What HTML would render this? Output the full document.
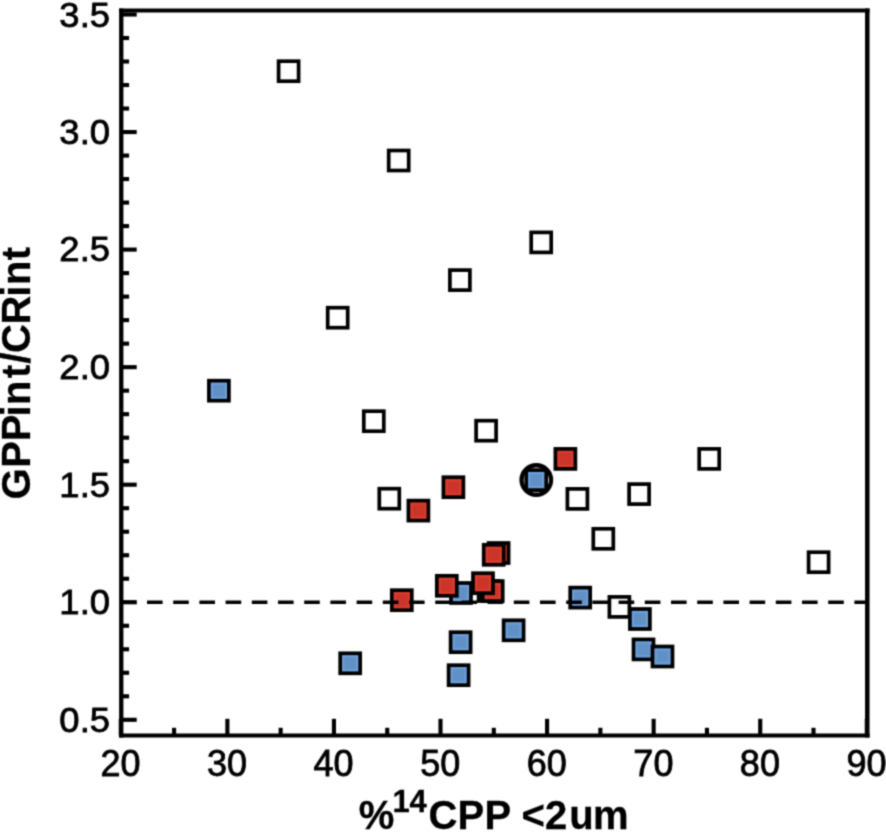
<!DOCTYPE html>
<html lang="en">
<head>
<meta charset="utf-8">
<title>GPPint/CRint vs %14CPP &lt;2um</title>
<style>
html,body{margin:0;padding:0;background:#fff;}
body{width:886px;height:832px;overflow:hidden;}
svg{display:block;}
text{font-family:"Liberation Sans",Arial,Helvetica,sans-serif;fill:#000;}
.tl{font-size:36px;stroke:#000;stroke-width:0.8px;}
.ttl{font-weight:bold;stroke:#000;stroke-width:0.3px;}
</style>
</head>
<body>
<svg width="886" height="832" viewBox="0 0 886 832">
<defs><filter id="soft" x="0" y="0" width="886" height="832" filterUnits="userSpaceOnUse" color-interpolation-filters="sRGB"><feConvolveMatrix order="3" kernelMatrix="0.0400 0.1200 0.0400 0.1200 0.3600 0.1200 0.0400 0.1200 0.0400" edgeMode="duplicate" preserveAlpha="true"/></filter></defs>
<g filter="url(#soft)">
<rect x="-5" y="-5" width="896" height="842" fill="#fff"/>

<g fill="none" stroke="#000" stroke-linecap="butt">
<line x1="121.25" y1="8.6" x2="121.25" y2="737.4" stroke-width="4.3"/>
<line x1="867.3" y1="8.6" x2="867.3" y2="737.4" stroke-width="4.5"/>
<line x1="119.1" y1="10.6" x2="869.55" y2="10.6" stroke-width="4.0"/>
<line x1="119.1" y1="735.4" x2="869.55" y2="735.4" stroke-width="4.0"/>
</g>
<g stroke="#000" stroke-width="4.1" stroke-linecap="butt">
<line x1="121.25" y1="719.80" x2="136.7" y2="719.80"/>
<line x1="121.25" y1="696.29" x2="129.1" y2="696.29"/>
<line x1="121.25" y1="672.78" x2="129.1" y2="672.78"/>
<line x1="121.25" y1="649.27" x2="129.1" y2="649.27"/>
<line x1="121.25" y1="625.76" x2="129.1" y2="625.76"/>
<line x1="121.25" y1="602.25" x2="136.7" y2="602.25"/>
<line x1="121.25" y1="578.74" x2="129.1" y2="578.74"/>
<line x1="121.25" y1="555.23" x2="129.1" y2="555.23"/>
<line x1="121.25" y1="531.72" x2="129.1" y2="531.72"/>
<line x1="121.25" y1="508.21" x2="129.1" y2="508.21"/>
<line x1="121.25" y1="484.70" x2="136.7" y2="484.70"/>
<line x1="121.25" y1="461.19" x2="129.1" y2="461.19"/>
<line x1="121.25" y1="437.68" x2="129.1" y2="437.68"/>
<line x1="121.25" y1="414.17" x2="129.1" y2="414.17"/>
<line x1="121.25" y1="390.66" x2="129.1" y2="390.66"/>
<line x1="121.25" y1="367.15" x2="136.7" y2="367.15"/>
<line x1="121.25" y1="343.64" x2="129.1" y2="343.64"/>
<line x1="121.25" y1="320.13" x2="129.1" y2="320.13"/>
<line x1="121.25" y1="296.62" x2="129.1" y2="296.62"/>
<line x1="121.25" y1="273.11" x2="129.1" y2="273.11"/>
<line x1="121.25" y1="249.60" x2="136.7" y2="249.60"/>
<line x1="121.25" y1="226.09" x2="129.1" y2="226.09"/>
<line x1="121.25" y1="202.58" x2="129.1" y2="202.58"/>
<line x1="121.25" y1="179.07" x2="129.1" y2="179.07"/>
<line x1="121.25" y1="155.56" x2="129.1" y2="155.56"/>
<line x1="121.25" y1="132.05" x2="136.7" y2="132.05"/>
<line x1="121.25" y1="108.54" x2="129.1" y2="108.54"/>
<line x1="121.25" y1="85.03" x2="129.1" y2="85.03"/>
<line x1="121.25" y1="61.52" x2="129.1" y2="61.52"/>
<line x1="121.25" y1="38.01" x2="129.1" y2="38.01"/>
<line x1="121.25" y1="14.50" x2="136.7" y2="14.50"/>
<line x1="120.80" y1="735.4" x2="120.80" y2="718.8"/>
<line x1="174.08" y1="735.4" x2="174.08" y2="727.8"/>
<line x1="227.37" y1="735.4" x2="227.37" y2="718.8"/>
<line x1="280.65" y1="735.4" x2="280.65" y2="727.8"/>
<line x1="333.94" y1="735.4" x2="333.94" y2="718.8"/>
<line x1="387.23" y1="735.4" x2="387.23" y2="727.8"/>
<line x1="440.51" y1="735.4" x2="440.51" y2="718.8"/>
<line x1="493.80" y1="735.4" x2="493.80" y2="727.8"/>
<line x1="547.08" y1="735.4" x2="547.08" y2="718.8"/>
<line x1="600.37" y1="735.4" x2="600.37" y2="727.8"/>
<line x1="653.65" y1="735.4" x2="653.65" y2="718.8"/>
<line x1="706.93" y1="735.4" x2="706.93" y2="727.8"/>
<line x1="760.22" y1="735.4" x2="760.22" y2="718.8"/>
<line x1="813.50" y1="735.4" x2="813.50" y2="727.8"/>
<line x1="866.79" y1="735.4" x2="866.79" y2="718.8"/>
</g>
<g stroke="#000" stroke-width="3.7" stroke-linejoin="miter">
<rect x="278.60" y="61.20" width="20.0" height="20.0" fill="#fff"/>
<rect x="388.70" y="150.50" width="20.0" height="20.0" fill="#fff"/>
<rect x="531.20" y="232.40" width="20.0" height="20.0" fill="#fff"/>
<rect x="449.90" y="270.10" width="20.0" height="20.0" fill="#fff"/>
<rect x="327.70" y="307.70" width="20.0" height="20.0" fill="#fff"/>
<rect x="363.80" y="411.20" width="20.0" height="20.0" fill="#fff"/>
<rect x="476.10" y="420.70" width="20.0" height="20.0" fill="#fff"/>
<rect x="379.30" y="488.70" width="20.0" height="20.0" fill="#fff"/>
<rect x="567.40" y="488.90" width="20.0" height="20.0" fill="#fff"/>
<rect x="629.10" y="484.10" width="20.0" height="20.0" fill="#fff"/>
<rect x="699.20" y="448.90" width="20.0" height="20.0" fill="#fff"/>
<rect x="593.30" y="528.80" width="20.0" height="20.0" fill="#fff"/>
<rect x="808.60" y="552.20" width="20.0" height="20.0" fill="#fff"/>
<rect x="609.40" y="596.90" width="20.0" height="20.0" fill="#fff"/>
<rect x="208.90" y="380.70" width="20.0" height="20.0" fill="#6ba0dc"/><rect x="212.95" y="384.75" width="11.90" height="11.90" fill="#6190c4" stroke="none"/>
<rect x="340.20" y="653.30" width="20.0" height="20.0" fill="#6ba0dc"/><rect x="344.25" y="657.35" width="11.90" height="11.90" fill="#6190c4" stroke="none"/>
<rect x="451.00" y="583.00" width="20.0" height="20.0" fill="#6ba0dc"/><rect x="455.05" y="587.05" width="11.90" height="11.90" fill="#6190c4" stroke="none"/>
<rect x="450.60" y="632.20" width="20.0" height="20.0" fill="#6ba0dc"/><rect x="454.65" y="636.25" width="11.90" height="11.90" fill="#6190c4" stroke="none"/>
<rect x="448.60" y="665.20" width="20.0" height="20.0" fill="#6ba0dc"/><rect x="452.65" y="669.25" width="11.90" height="11.90" fill="#6190c4" stroke="none"/>
<rect x="503.60" y="620.30" width="20.0" height="20.0" fill="#6ba0dc"/><rect x="507.65" y="624.35" width="11.90" height="11.90" fill="#6190c4" stroke="none"/>
<rect x="570.20" y="587.60" width="20.0" height="20.0" fill="#6ba0dc"/><rect x="574.25" y="591.65" width="11.90" height="11.90" fill="#6190c4" stroke="none"/>
<rect x="629.90" y="609.00" width="20.0" height="20.0" fill="#6ba0dc"/><rect x="633.95" y="613.05" width="11.90" height="11.90" fill="#6190c4" stroke="none"/>
<rect x="633.50" y="639.40" width="20.0" height="20.0" fill="#6ba0dc"/><rect x="637.55" y="643.45" width="11.90" height="11.90" fill="#6190c4" stroke="none"/>
<rect x="652.50" y="646.50" width="20.0" height="20.0" fill="#6ba0dc"/><rect x="656.55" y="650.55" width="11.90" height="11.90" fill="#6190c4" stroke="none"/>
<rect x="526.20" y="470.10" width="20.0" height="20.0" fill="#6ba0dc"/><rect x="530.25" y="474.15" width="11.90" height="11.90" fill="#6190c4" stroke="none"/>
<rect x="555.40" y="448.90" width="20.0" height="20.0" fill="#dc3c2d"/><rect x="559.45" y="452.95" width="11.90" height="11.90" fill="#cb3529" stroke="none"/>
<rect x="443.40" y="477.20" width="20.0" height="20.0" fill="#dc3c2d"/><rect x="447.45" y="481.25" width="11.90" height="11.90" fill="#cb3529" stroke="none"/>
<rect x="408.40" y="500.60" width="20.0" height="20.0" fill="#dc3c2d"/><rect x="412.45" y="504.65" width="11.90" height="11.90" fill="#cb3529" stroke="none"/>
<rect x="488.60" y="543.00" width="20.0" height="20.0" fill="#dc3c2d"/><rect x="492.65" y="547.05" width="11.90" height="11.90" fill="#cb3529" stroke="none"/>
<rect x="483.70" y="544.80" width="20.0" height="20.0" fill="#dc3c2d"/><rect x="487.75" y="548.85" width="11.90" height="11.90" fill="#cb3529" stroke="none"/>
<rect x="478.60" y="581.00" width="20.0" height="20.0" fill="#1a0503"/>
<rect x="482.70" y="581.10" width="20.0" height="20.0" fill="#dc3c2d"/><rect x="486.75" y="585.15" width="11.90" height="11.90" fill="#cb3529" stroke="none"/>
<rect x="436.80" y="575.80" width="20.0" height="20.0" fill="#dc3c2d"/><rect x="440.85" y="579.85" width="11.90" height="11.90" fill="#cb3529" stroke="none"/>
<rect x="391.80" y="590.20" width="20.0" height="20.0" fill="#dc3c2d"/><rect x="395.85" y="594.25" width="11.90" height="11.90" fill="#cb3529" stroke="none"/>
<rect x="473.00" y="573.20" width="20.0" height="20.0" fill="#dc3c2d"/><rect x="477.05" y="577.25" width="11.90" height="11.90" fill="#cb3529" stroke="none"/>
<circle cx="536.3" cy="480.0" r="14.75" fill="none" stroke-width="4.3"/>
</g>
<line x1="120.8" y1="602.25" x2="867.3" y2="602.25" stroke="#000" stroke-width="3.6" stroke-dasharray="15.6 10.6"/>
<g class="tl" text-anchor="end">
<text transform="translate(110.0,731.6) scale(1.012,1)">0.5</text>
<text transform="translate(110.0,614.0) scale(1.012,1)">1.0</text>
<text transform="translate(110.0,496.5) scale(1.012,1)">1.5</text>
<text transform="translate(110.0,378.9) scale(1.012,1)">2.0</text>
<text transform="translate(110.0,261.4) scale(1.012,1)">2.5</text>
<text transform="translate(110.0,143.8) scale(1.012,1)">3.0</text>
<text transform="translate(110.0,27.1) scale(1.012,1)">3.5</text>
</g>
<g class="tl" text-anchor="middle" style="font-size:36.2px">
<text transform="translate(120.5,776.2) scale(0.995,1)">20</text>
<text transform="translate(227.1,776.2) scale(0.995,1)">30</text>
<text transform="translate(333.6,776.2) scale(0.995,1)">40</text>
<text transform="translate(440.2,776.2) scale(0.995,1)">50</text>
<text transform="translate(546.8,776.2) scale(0.995,1)">60</text>
<text transform="translate(653.4,776.2) scale(0.995,1)">70</text>
<text transform="translate(759.9,776.2) scale(0.995,1)">80</text>
<text transform="translate(866.5,776.2) scale(0.995,1)">90</text>
</g>
<text class="ttl" font-size="40" transform="translate(30.2,500) rotate(-90)" x="0.4 32.2 58.8 83.6 95 122 136.2 146.9 175.6 203.3 215 239.8">GPPint/CRint</text>
<text class="ttl" font-size="40" y="829.2" x="358.8">%<tspan font-size="31" y="811.6" x="392.4 409.4">14</tspan><tspan y="829.2" x="428.5 457.6 484.5 511 521.4 545.1 569.3 593">CPP &lt;2um</tspan></text>
</g>
</svg>
</body>
</html>
